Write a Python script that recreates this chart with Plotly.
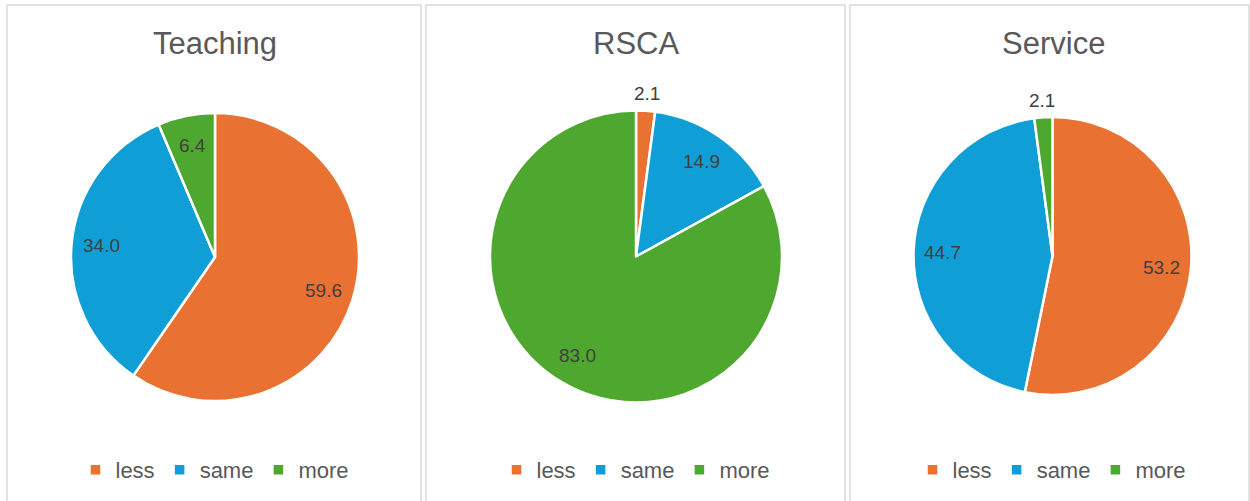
import math
import plotly.graph_objects as go

# ---- data ----
categories = ["less", "same", "more"]
teaching = [59.6, 34.0, 6.4]
rsca = [2.1, 14.9, 83.0]
service = [53.2, 44.7, 2.1]
titles = ["Teaching", "RSCA", "Service"]

colors = ["#E97132", "#0F9ED5", "#4EA72E"]

W, H = 1250, 501
LABEL_FONT = dict(family="Liberation Sans, Arial", size=19, color="#404040")

# pie layout (pixels): center x, center y, radius
pies = [
    dict(values=teaching, cx=215, cy=257, r=144, legend="legend"),
    dict(values=rsca, cx=636, cy=256.5, r=146, legend="legend2"),
    dict(values=service, cx=1052.5, cy=256, r=139, legend="legend3"),
]
panels = [(7, 421), (426, 845), (850, 1249)]

fig = go.Figure()
annotations = []
for i, p in enumerate(pies):
    # zero-width suffix keeps each pie's legend entries independent
    labels = [c + "\u200b" * i for c in categories]
    fig.add_trace(go.Pie(
        labels=labels,
        values=p["values"],
        sort=False,
        direction="clockwise",
        rotation=0,
        marker=dict(colors=colors, line=dict(color="white", width=2.5)),
        textinfo="none",
        hovertemplate="%{label}: %{value:.1f}<extra></extra>",
        legend=p["legend"],
        domain=dict(
            x=[(p["cx"] - p["r"]) / W, (p["cx"] + p["r"]) / W],
            y=[1 - (p["cy"] + p["r"]) / H, 1 - (p["cy"] - p["r"]) / H],
        ),
    ))
    # data labels placed from each slice's mid-angle (Excel "best fit" style)
    total = sum(p["values"])
    cum = 0.0
    for v in p["values"]:
        theta = 2 * math.pi * (cum + v / 2) / total
        cum += v
        d = p["r"] + 17 if v / total < 0.05 else 0.79 * p["r"]
        x = p["cx"] + d * math.sin(theta)
        y = p["cy"] - d * math.cos(theta)
        annotations.append(dict(text=f"{v:.1f}", x=x / W, y=1 - y / H, xref="paper", yref="paper",
                                xanchor="center", yanchor="middle", showarrow=False, font=LABEL_FONT))

shapes = []
for (x0, x1) in panels:
    shapes.append(dict(type="rect", xref="paper", yref="paper",
                       x0=x0 / W, x1=x1 / W, y0=-0.02, y1=1 - 5 / H,
                       line=dict(color="#D9D9D9", width=1.5), fillcolor="rgba(0,0,0,0)", layer="below"))

title_x = [215, 636, 1053]
for t, tx in zip(titles, title_x):
    annotations.append(dict(text=t, x=tx / W, y=1 - 43 / H, xref="paper", yref="paper",
                            xanchor="center", yanchor="middle", showarrow=False,
                            font=dict(family="Liberation Sans, Arial", size=31, color="#595959")))

legend_common = dict(orientation="h", yanchor="middle", xanchor="center",
                     y=1 - 470 / H, bgcolor="rgba(0,0,0,0)",
                     font=dict(family="Liberation Sans, Arial", size=22, color="#595959"),
                     itemclick=False, itemdoubleclick=False)

fig.update_layout(
    width=W, height=H,
    margin=dict(l=0, r=0, t=0, b=0),
    paper_bgcolor="white",
    plot_bgcolor="white",
    shapes=shapes,
    annotations=annotations,
    legend=dict(x=215 / W, **legend_common),
    legend2=dict(x=636 / W, **legend_common),
    legend3=dict(x=1052 / W, **legend_common),
)

fig.write_html("out.html", config={"displayModeBar": False},
               post_script="document.body.style.margin='0';")
